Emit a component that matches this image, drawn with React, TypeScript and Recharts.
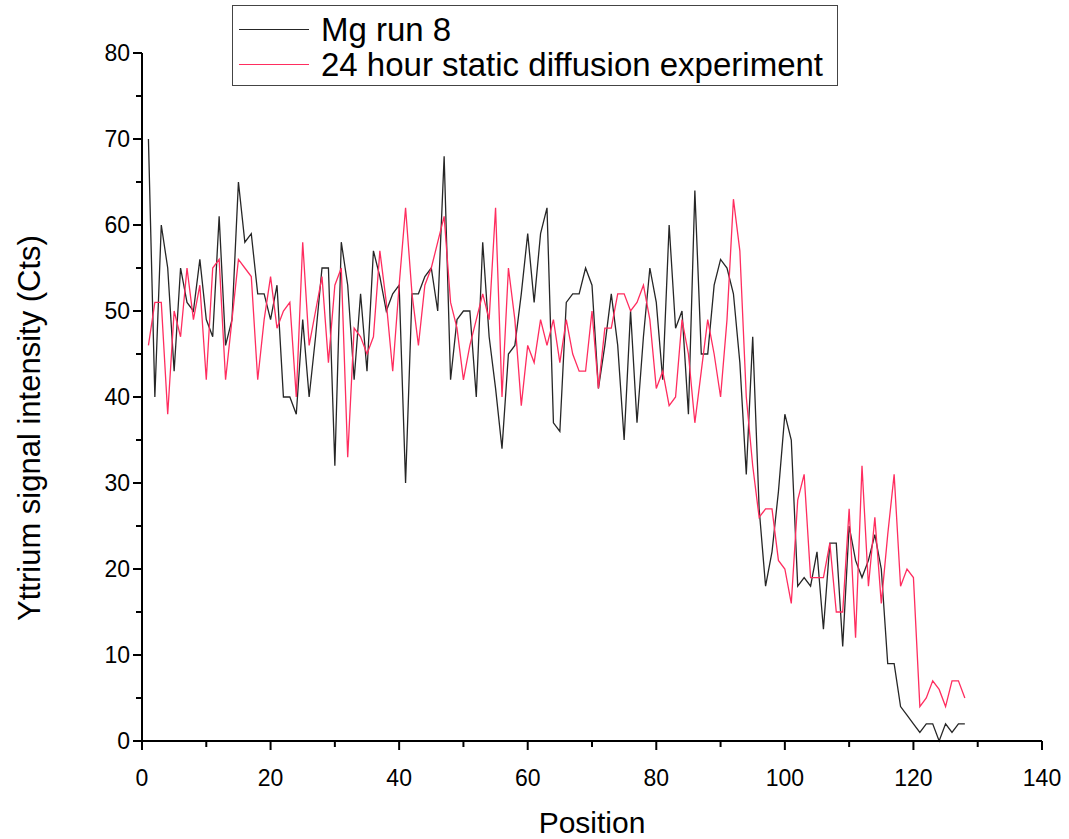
import React from "react";
import { LineChart, Line, XAxis, YAxis, Legend, Label } from "recharts";

// positions along the profile
const positions = [
  1, 2, 3, 4, 5, 6, 7, 8, 9, 10, 11, 12, 13, 14, 15, 16, 17, 18, 19, 20,
  21, 22, 23, 24, 25, 26, 27, 28, 29, 30, 31, 32, 33, 34, 35, 36, 37, 38, 39, 40,
  41, 42, 43, 44, 45, 46, 47, 48, 49, 50, 51, 52, 53, 54, 55, 56, 57, 58, 59, 60,
  61, 62, 63, 64, 65, 66, 67, 68, 69, 70, 71, 72, 73, 74, 75, 76, 77, 78, 79, 80,
  81, 82, 83, 84, 85, 86, 87, 88, 89, 90, 91, 92, 93, 94, 95, 96, 97, 98, 99, 100,
  101, 102, 103, 104, 105, 106, 107, 108, 109, 110, 111, 112, 113, 114, 115, 116, 117, 118, 119, 120,
  121, 122, 123, 124, 125, 126, 127, 128,
];

const mgRun8 = [
  70, 40, 60, 55, 43, 55, 51, 50, 56, 49, 47, 61, 46, 49, 65, 58, 59, 52, 52, 49,
  53, 40, 40, 38, 49, 40, 47, 55, 55, 32, 58, 53, 42, 52, 43, 57, 54, 50, 52, 53,
  30, 52, 52, 54, 55, 50, 68, 42, 49, 50, 50, 40, 58, 47, 41, 34, 45, 46, 52, 59,
  51, 59, 62, 37, 36, 51, 52, 52, 55, 53, 41, 46, 52, 46, 35, 50, 37, 47, 55, 51,
  42, 60, 48, 50, 38, 64, 45, 45, 53, 56, 55, 52, 44, 31, 47, 27, 18, 22, 29, 38,
  35, 18, 19, 18, 22, 13, 23, 23, 11, 25, 21, 19, 21, 24, 20, 9, 9, 4, 3, 2,
  1, 2, 2, 0, 2, 1, 2, 2,
];

const staticDiffusion = [
  46, 51, 51, 38, 50, 47, 55, 49, 53, 42, 55, 56, 42, 49, 56, 55, 54, 42, 49, 54,
  48, 50, 51, 40, 58, 46, 50, 54, 44, 53, 55, 33, 48, 47, 45, 47, 57, 51, 43, 53,
  62, 52, 46, 53, 55, 58, 61, 51, 48, 42, 46, 49, 52, 49, 62, 40, 55, 49, 39, 46,
  44, 49, 46, 49, 44, 49, 45, 43, 43, 50, 41, 48, 48, 52, 52, 50, 51, 53, 49, 41,
  43, 39, 40, 49, 45, 37, 43, 49, 45, 40, 49, 63, 57, 40, 32, 26, 27, 27, 21, 20,
  16, 28, 31, 19, 19, 19, 23, 15, 15, 27, 12, 32, 18, 26, 16, 24, 31, 18, 20, 19,
  4, 5, 7, 6, 4, 7, 7, 5,
];

const seriesNames = ["Mg run 8", "24 hour static diffusion experiment"];

const xTicks = [0, 10, 20, 30, 40, 50, 60, 70, 80, 90, 100, 110, 120, 130, 140];
const yTicks = [0, 5, 10, 15, 20, 25, 30, 35, 40, 45, 50, 55, 60, 65, 70, 75, 80];

const data = positions.map((p, i) => ({
  position: p,
  mg: mgRun8[i],
  diffusion: staticDiffusion[i],
}));

const FONT = '"Liberation Sans", Arial, Helvetica, sans-serif';

const XTick = (props: any) => {
  const { x, y, payload } = props;
  const major = payload.value % 20 === 0;
  return (
    <g>
      <line x1={x} y1={y} x2={x} y2={y + (major ? 9 : 6)} stroke="#000" strokeWidth={2} />
      {major && (
        <text x={x} y={y + 45} textAnchor="middle" fontSize={23} fontFamily={FONT} fill="#000">
          {payload.value}
        </text>
      )}
    </g>
  );
};

const YTick = (props: any) => {
  const { x, y, payload } = props;
  const major = payload.value % 10 === 0;
  return (
    <g>
      <line x1={x} y1={y} x2={x - (major ? 9 : 6)} y2={y} stroke="#000" strokeWidth={2} />
      {major && (
        <text x={x - 12} y={y + 8} textAnchor="end" fontSize={23} fontFamily={FONT} fill="#000">
          {payload.value}
        </text>
      )}
    </g>
  );
};

// rotated y-axis title, sitting a little below the plot's middle as in the original
const YTitle = () => {
  const cx = 40;
  const cy = 428;
  return (
    <text
      x={cx}
      y={cy}
      transform={`rotate(-90, ${cx}, ${cy})`}
      textAnchor="middle"
      fontSize={31}
      fontFamily={FONT}
      fill="#000"
    >
      Yttrium signal intensity (Cts)
    </text>
  );
};

const LegendBox = (props: any) => {
  const items = [...(props.payload || [])].sort(
    (a: any, b: any) => seriesNames.indexOf(a.value) - seriesNames.indexOf(b.value)
  );
  return (
    <div
      style={{
        width: 606,
        height: 81,
        boxSizing: "border-box",
        border: "1px solid #444",
        background: "#fff",
        position: "relative",
        fontFamily: FONT,
        fontSize: 33,
        color: "#000",
      }}
    >
      {items.map((it: any, i: number) => (
        <div
          key={it.value}
          style={{ position: "absolute", left: 0, top: 6 + i * 35, height: 35, display: "flex", alignItems: "center" }}
        >
          <div style={{ width: 70, height: 0, borderTop: `1.5px solid ${it.color}`, marginLeft: 6 }} />
          <span style={{ marginLeft: 12, lineHeight: "35px", whiteSpace: "nowrap" }}>{it.value}</span>
        </div>
      ))}
    </div>
  );
};

export default function App() {
  return (
    <div style={{ position: "absolute", left: 0, top: 0, width: 1069, height: 839, background: "#fff" }}>
      <LineChart
        width={1069}
        height={839}
        data={data}
        margin={{ top: 53, right: 27, left: 82, bottom: 0 }}
      >
        <XAxis
          dataKey="position"
          type="number"
          domain={[0, 140]}
          ticks={xTicks}
          interval={0}
          height={98}
          tickSize={0}
          tickMargin={0}
          tickLine={false}
          axisLine={{ stroke: "#000", strokeWidth: 2 }}
          tick={<XTick />}
        >
          <Label
            value="Position"
            position="insideBottom"
            offset={6}
            style={{ fontSize: 30, fontFamily: FONT, fill: "#000" }}
          />
        </XAxis>
        <YAxis
          type="number"
          domain={[0, 80]}
          ticks={yTicks}
          interval={0}
          width={60}
          tickSize={0}
          tickMargin={0}
          tickLine={false}
          axisLine={{ stroke: "#000", strokeWidth: 2 }}
          tick={<YTick />}
        >
          <Label content={<YTitle />} />
        </YAxis>
        <Legend
          layout="vertical"
          verticalAlign="middle"
          align="center"
          content={<LegendBox />}
          wrapperStyle={{ left: 232, top: 5, width: 606, height: 81, right: "auto", bottom: "auto" }}
        />
        <Line
          type="linear"
          dataKey="mg"
          name={seriesNames[0]}
          stroke="#262626"
          strokeWidth={1.3}
          dot={false}
          isAnimationActive={false}
        />
        <Line
          type="linear"
          dataKey="diffusion"
          name={seriesNames[1]}
          stroke="#ff2d5f"
          strokeWidth={1.3}
          dot={false}
          isAnimationActive={false}
        />
      </LineChart>
    </div>
  );
}
